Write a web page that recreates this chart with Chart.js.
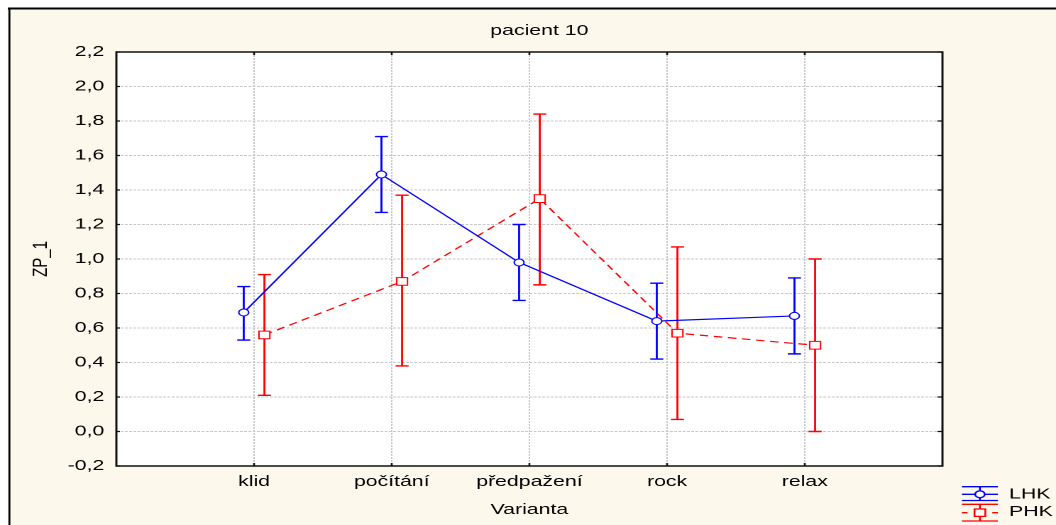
<!DOCTYPE html>
<html>
<head>
<meta charset="utf-8">
<script src="https://cdn.jsdelivr.net/npm/chart.js@4.4.1/dist/chart.umd.min.js"></script>
<style>
  html, body { margin: 0; padding: 0; background: #fff; overflow: hidden; }
  /* the plot is drawn narrow and widened horizontally */
  #wrap { width: 744px; height: 525px; transform: scaleX(1.41935); transform-origin: 0 0; }
</style>
</head>
<body>
<div id="wrap"><canvas id="c" width="744" height="525"></canvas></div>
<script>
// categories on the x axis
const categories = ['klid', 'počítání', 'předpažení', 'rock', 'relax'];

// LHK: means with lower / upper limits of the error bars
const lhkMean = [0.69, 1.49, 0.98, 0.64, 0.67];
const lhkLow  = [0.53, 1.27, 0.76, 0.42, 0.45];
const lhkHigh = [0.84, 1.71, 1.20, 0.86, 0.89];

// PHK: means with lower / upper limits of the error bars
const phkMean = [0.56, 0.87, 1.35, 0.57, 0.50];
const phkLow  = [0.21, 0.38, 0.85, 0.07, 0.00];
const phkHigh = [0.91, 1.37, 1.84, 1.07, 1.00];

// y axis ticks
const yTickValues = [-0.2, 0.0, 0.2, 0.4, 0.6, 0.8, 1.0, 1.2, 1.4, 1.6, 1.8, 2.0, 2.2];
const yTickLabels = ['-0,2', '0,0', '0,2', '0,4', '0,6', '0,8', '1,0', '1,2', '1,4', '1,6', '1,8', '2,0', '2,2'];

const SHIFT = 0.075;          // side-by-side offset of the two series within a category
const FONT = "'Liberation Sans', Arial, sans-serif";
const CREAM = '#fdf8ec';
const BLUE = '#0000ff';
const RED = '#ff0000';

function series(mean, low, high, dx) {
  return mean.map((v, i) => ({ x: i + 1 + dx, y: v, low: low[i], high: high[i] }));
}

// page background, outer frame and white plot area
const backdrop = {
  id: 'backdrop',
  beforeDraw(chart) {
    const { ctx, width, height, chartArea: a } = chart;
    ctx.save();
    ctx.fillStyle = '#fff';
    ctx.fillRect(0, 0, width, height);
    ctx.fillStyle = CREAM;
    ctx.fillRect(7, 9, width - 7, height - 9);
    ctx.strokeStyle = '#000';
    ctx.lineWidth = 2;
    ctx.beginPath();
    ctx.moveTo(5.5, 8.5); ctx.lineTo(width, 8.5);
    ctx.stroke();
    ctx.lineWidth = 1.4;
    ctx.beginPath();
    ctx.moveTo(6.6, 8); ctx.lineTo(6.6, height);
    ctx.stroke();
    ctx.fillStyle = '#fff';
    ctx.fillRect(a.left, a.top, a.right - a.left, a.bottom - a.top);
    ctx.restore();
  }
};

// plot frame with inward ticks, then the error bars
const frameAndBars = {
  id: 'frameAndBars',
  beforeDatasetsDraw(chart) {
    const { ctx, chartArea: a, scales: { x, y } } = chart;
    ctx.save();
    ctx.strokeStyle = '#111';
    ctx.lineWidth = 1.5;
    ctx.strokeRect(a.left, a.top, a.right - a.left, a.bottom - a.top);
    ctx.lineWidth = 1.3;
    ctx.beginPath();
    yTickValues.forEach(v => {
      const py = y.getPixelForValue(v);
      ctx.moveTo(a.left, py); ctx.lineTo(a.left + 2.5, py);
      ctx.moveTo(a.right, py); ctx.lineTo(a.right - 3.5, py);
    });
    categories.forEach((c, i) => {
      const px = x.getPixelForValue(i + 1);
      ctx.moveTo(px, a.top); ctx.lineTo(px, a.top + 3);
      ctx.moveTo(px, a.bottom); ctx.lineTo(px, a.bottom - 3);
    });
    ctx.stroke();

    chart.data.datasets.forEach(ds => {
      ctx.strokeStyle = ds.borderColor;
      ctx.lineWidth = 1.4;
      ctx.setLineDash([]);
      ds.data.forEach(p => {
        const px = x.getPixelForValue(p.x);
        const yl = y.getPixelForValue(p.low);
        const yh = y.getPixelForValue(p.high);
        const cap = 4.6;
        ctx.beginPath();
        ctx.moveTo(px, yl); ctx.lineTo(px, yh);
        ctx.moveTo(px - cap, yl); ctx.lineTo(px + cap, yl);
        ctx.moveTo(px - cap, yh); ctx.lineTo(px + cap, yh);
        ctx.stroke();
      });
    });
    ctx.restore();
  }
};

// chart title and legend
const annotations = {
  id: 'annotations',
  afterDraw(chart) {
    const { ctx, chartArea: a } = chart;
    ctx.save();
    ctx.fillStyle = '#000';
    ctx.font = '15px ' + FONT;
    ctx.textAlign = 'center';
    ctx.textBaseline = 'middle';
    ctx.fillText('pacient 10', (a.left + a.right) / 2 + 7, 31);

    const x1 = 677.7, x2 = 703.1, cx = 690.4;
    // LHK symbol
    ctx.strokeStyle = BLUE;
    ctx.lineWidth = 1.3;
    ctx.beginPath();
    ctx.moveTo(x1, 486.7); ctx.lineTo(x2, 486.7);
    ctx.moveTo(x1, 494.3); ctx.lineTo(x2, 494.3);
    ctx.moveTo(x1, 500.5); ctx.lineTo(x2, 500.5);
    ctx.moveTo(cx, 486.7); ctx.lineTo(cx, 500.5);
    ctx.stroke();
    ctx.fillStyle = '#fff';
    ctx.beginPath();
    ctx.arc(cx, 494.3, 3.4, 0, Math.PI * 2);
    ctx.fill(); ctx.stroke();
    // PHK symbol
    ctx.strokeStyle = RED;
    ctx.beginPath();
    ctx.moveTo(x1, 504.3); ctx.lineTo(x2, 504.3);
    ctx.moveTo(x1, 521); ctx.lineTo(x2, 521);
    ctx.moveTo(cx, 504.3); ctx.lineTo(cx, 521);
    ctx.moveTo(x1, 512.7); ctx.lineTo(x1 + 4, 512.7);
    ctx.moveTo(x2 - 4, 512.7); ctx.lineTo(x2, 512.7);
    ctx.stroke();
    ctx.fillStyle = '#fff';
    ctx.fillRect(cx - 3.8, 509, 7.6, 7.4);
    ctx.strokeRect(cx - 3.8, 509, 7.6, 7.4);

    ctx.fillStyle = '#000';
    ctx.textAlign = 'left';
    ctx.fillText('LHK', 710.9, 494.5);
    ctx.fillText('PHK', 710.9, 512);
    ctx.restore();
  }
};

Chart.defaults.font.family = FONT;
Chart.defaults.font.size = 15;
Chart.defaults.color = '#000';

new Chart(document.getElementById('c'), {
  type: 'line',
  data: {
    datasets: [
      {
        label: 'LHK',
        data: series(lhkMean, lhkLow, lhkHigh, -SHIFT),
        borderColor: BLUE,
        borderWidth: 1.2,
        pointStyle: 'circle',
        pointRadius: 3.5,
        pointBorderWidth: 1,
        pointBackgroundColor: '#fff',
        pointBorderColor: BLUE,
        tension: 0,
        clip: false
      },
      {
        label: 'PHK',
        data: series(phkMean, phkLow, phkHigh, SHIFT),
        borderColor: RED,
        borderWidth: 1.2,
        borderDash: [6, 4],
        pointStyle: 'rect',
        pointRadius: 5.4,
        pointBorderWidth: 1,
        pointBackgroundColor: '#fff',
        pointBorderColor: RED,
        tension: 0,
        clip: false
      }
    ]
  },
  options: {
    responsive: false,
    animation: false,
    devicePixelRatio: 2,
    layout: { padding: { top: 52, right: 80, bottom: 0, left: 0 } },
    plugins: {
      legend: { display: false },
      tooltip: { enabled: false },
      title: { display: false }
    },
    scales: {
      x: {
        type: 'linear',
        min: 0,
        max: 6,
        afterBuildTicks(scale) { scale.ticks = categories.map((c, i) => ({ value: i + 1 })); },
        afterFit(scale) { scale.height = 59; },
        ticks: {
          autoSkip: false,
          maxRotation: 0,
          padding: 7,
          callback: (v) => categories[Math.round(v) - 1]
        },
        grid: { color: '#c8c8c8', lineWidth: 1, drawTicks: false },
        border: { display: false, dash: [2, 1] },
        title: { display: true, text: 'Varianta', padding: { top: 0, bottom: 6 } }
      },
      y: {
        min: -0.2,
        max: 2.2,
        afterBuildTicks(scale) { scale.ticks = yTickValues.map(v => ({ value: v })); },
        afterFit(scale) { scale.width = 82; },
        ticks: {
          padding: 8.5,
          callback: (v) => yTickLabels[yTickValues.findIndex(t => Math.abs(t - v) < 1e-9)]
        },
        grid: { color: '#c8c8c8', lineWidth: 1, drawTicks: false },
        border: { display: false, dash: [2, 1] },
        title: { display: true, text: 'ZP_1', padding: { top: 20, bottom: 0 } }
      }
    }
  },
  plugins: [backdrop, frameAndBars, annotations]
});
</script>
</body>
</html>
